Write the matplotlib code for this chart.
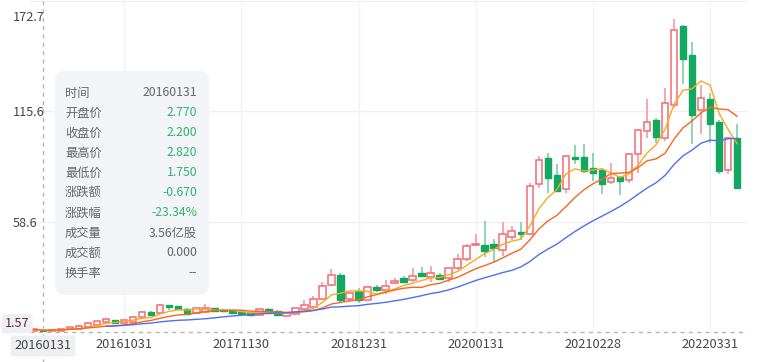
import numpy as np
import pandas as pd
import matplotlib
matplotlib.use('Agg')
import matplotlib.pyplot as plt
from matplotlib.patches import FancyBboxPatch

plt.rcParams['font.family'] = ['Noto Sans CJK SC', 'DejaVu Sans']

# monthly bars, 2015-12 .. 2022-06
dates = pd.date_range('2015-12-31', periods=79, freq='ME').strftime('%Y%m%d').tolist()

opens = [2.10, 2.77, 2.20, 2.30, 3.10, 3.20, 4.10, 5.20, 6.70, 7.70,
         6.20, 6.70, 9.30, 11.80, 11.30, 15.40, 14.90, 13.40, 11.30, 11.80,
         13.90, 13.20, 12.90, 11.80, 11.30, 10.30, 13.40, 12.40, 9.80, 10.80,
         13.40, 14.40, 18.50, 25.70, 30.90, 18.50, 22.60, 18.00, 24.70, 23.20,
         26.80, 29.30, 28.30, 31.90, 29.80, 30.90, 29.30, 34.50, 39.10, 46.30,
         46.30, 47.30, 44.20, 50.90, 53.50, 52.40, 78.10, 91.50, 82.80, 75.60,
         92.00, 92.00, 86.40, 85.30, 79.20, 81.70, 80.20, 93.60, 105.40, 111.00,
         101.80, 118.70, 159.90, 144.90, 116.20, 121.80, 110.00, 85.30, 101.80]
closes = [2.87, 2.20, 2.50, 3.10, 4.10, 4.70, 6.20, 7.20, 8.20, 6.20,
          7.70, 9.30, 11.80, 10.30, 15.40, 14.40, 13.40, 10.80, 13.90, 13.90,
          12.40, 12.40, 11.30, 10.80, 10.30, 13.40, 11.30, 10.30, 11.30, 13.90,
          15.40, 18.50, 25.20, 30.90, 18.00, 21.60, 18.00, 24.70, 23.20, 25.20,
          27.80, 27.30, 30.30, 30.30, 31.90, 28.80, 34.50, 39.10, 45.80, 47.30,
          43.70, 45.20, 52.40, 54.00, 52.40, 77.10, 90.50, 81.20, 74.50, 92.50,
          91.00, 84.80, 83.80, 78.10, 81.20, 79.70, 93.60, 105.90, 110.00, 102.30,
          119.80, 157.80, 142.90, 113.60, 122.80, 109.00, 84.80, 101.80, 76.10]
highs = [3.10, 2.82, 2.70, 3.30, 4.40, 5.00, 6.50, 7.50, 8.80, 8.00,
         8.00, 9.60, 12.20, 12.30, 15.90, 15.60, 15.20, 13.80, 14.20, 16.00,
         14.10, 13.50, 13.20, 12.10, 11.70, 13.70, 14.00, 12.70, 11.70, 14.20,
         18.00, 20.10, 27.30, 34.00, 31.90, 22.10, 24.20, 25.20, 25.70, 28.30,
         29.30, 30.30, 34.50, 35.00, 35.50, 31.90, 34.80, 41.70, 47.30, 52.40,
         59.10, 49.90, 58.60, 56.60, 58.60, 78.70, 92.50, 94.10, 88.40, 93.00,
         98.20, 98.70, 94.10, 86.00, 88.90, 82.00, 94.00, 106.40, 121.80, 112.00,
         127.50, 163.50, 160.50, 151.60, 129.50, 125.00, 111.00, 102.50, 109.00]
lows = [1.90, 1.75, 2.00, 2.10, 2.90, 3.00, 3.90, 5.00, 6.40, 5.90,
        6.00, 6.50, 9.00, 10.00, 11.00, 12.80, 13.00, 10.40, 11.00, 11.50,
        12.00, 11.80, 10.90, 10.30, 9.90, 10.00, 10.90, 9.90, 9.30, 10.50,
        13.00, 14.00, 18.00, 25.20, 16.50, 17.00, 16.50, 17.50, 22.10, 21.10,
        26.30, 26.80, 27.30, 29.80, 27.30, 28.30, 27.30, 33.80, 38.50, 45.80,
        40.60, 37.00, 41.10, 48.90, 48.90, 51.50, 76.10, 73.50, 74.00, 73.50,
        88.40, 83.80, 79.70, 73.00, 78.10, 72.50, 78.70, 84.00, 101.80, 99.20,
        100.50, 117.50, 130.00, 98.70, 103.80, 99.20, 83.30, 83.30, 75.60]

y_ticks = [58.6, 115.6, 172.7]
y_min, y_max = 1.57, 172.7
label_idx = [10, 23, 36, 49, 62, 75]
sel = 1  # tooltip month
volume_text = '3.56亿股'
amount_text = '0.000'
turnover_text = '--'

RED = '#F26B73'
RED_WICK = '#F59AA0'
GREEN = '#12A862'
GREEN_WICK = '#7ECDA5'

o = np.array(opens); c = np.array(closes); h = np.array(highs); l = np.array(lows)
x = np.arange(len(dates))
up = c >= o

ma5 = pd.Series(c).rolling(5, min_periods=1).mean()
ma10 = pd.Series(c).rolling(10, min_periods=1).mean()
ma20 = pd.Series(c).rolling(20, min_periods=9).mean()

fig = plt.figure(figsize=(7.66, 3.62), dpi=100)
ax = fig.add_axes([29.5 / 766, 1 - 332 / 362, 717.5 / 766, 331 / 362])
ax.set_xlim(-0.5, 79.1)
ax.set_ylim(y_min, y_max)
for s in ax.spines.values():
    s.set_visible(False)

for v in y_ticks:
    ax.axhline(v, color='#f0f0f0', lw=1, zorder=0, clip_on=False)
for i in label_idx:
    ax.axvline(i, color='#f2f2f2', lw=1, zorder=0)
ax.axhline(y_min, color='#b5b5b5', lw=1, ls=(0, (3, 3)), zorder=1, clip_on=False)

# candles
ax.vlines(x[up], l[up], h[up], color=RED_WICK, lw=1.2, zorder=2)
ax.vlines(x[~up], l[~up], h[~up], color=GREEN_WICK, lw=1.2, zorder=2)
body = np.maximum(np.abs(c - o), 0.4)
ax.bar(x[up], body[up], bottom=np.minimum(o, c)[up], width=0.72,
       facecolor='white', edgecolor=RED, linewidth=1.1, zorder=3)
ax.bar(x[~up], body[~up], bottom=np.minimum(o, c)[~up], width=0.72,
       facecolor=GREEN, edgecolor=GREEN, linewidth=1.0, zorder=3)

ax.plot(x, ma5, color='#F8AA1E', lw=1.0, zorder=4)
ax.plot(x, ma10, color='#F8661E', lw=1.0, zorder=4)
ax.plot(x, ma20, color='#4F6FF2', lw=1.0, zorder=4)

ax.set_xticks(label_idx)
ax.set_xticklabels([dates[i] for i in label_idx])
ax.set_yticks([])
ax.tick_params(axis='x', length=0, pad=4, labelsize=9.2, labelcolor='#464646')

# y labels drawn inside on the left
ytr = ax.get_yaxis_transform()
for v in y_ticks:
    off = -12 if v == y_max else -1
    ax.annotate(f'{v:g}', xy=(-0.023, v), xycoords=ytr, xytext=(0, off),
                textcoords='offset points', ha='left', va='center',
                fontsize=9.2, color='#464646', annotation_clip=False)

# crosshair on selected month
ax.axvline(sel, ymin=-0.1, ymax=1, color='#b5b5b5', lw=1, ls=(0, (3, 3)),
           zorder=5, clip_on=False)
ax.annotate(dates[sel], xy=(sel, 0), xycoords=ax.get_xaxis_transform(),
            xytext=(0, -10), textcoords='offset points', ha='center', va='center',
            fontsize=9.2, color='#464646', annotation_clip=False, zorder=6,
            bbox=dict(boxstyle='round,pad=0.3,rounding_size=0.2', fc='#eeeff2', ec='none'))
ax.annotate(f'{y_min:g}', xy=(0, y_min), xycoords=ytr, xytext=(-9, 6),
            textcoords='offset points', ha='center', va='center',
            fontsize=9.2, color='#5a2c3c', annotation_clip=False, zorder=6,
            bbox=dict(boxstyle='round,pad=0.25,rounding_size=0.2', fc='#eeeff2', ec='none'))

# tooltip
ov = fig.add_axes([0, 0, 1, 1])
ov.set_xlim(0, 766)
ov.set_ylim(362, 0)
ov.axis('off')
ov.add_patch(FancyBboxPatch((55, 71), 154, 224, boxstyle='round,pad=0,rounding_size=10',
                            fc='#f3f4f8', ec='none'))
prev = closes[sel - 1]
chg = closes[sel] - prev
val_color = '#2DB46E' if chg < 0 else '#F04050'
rows = [
    ('时间', dates[sel], '#666666'),
    ('开盘价', f'{opens[sel]:.3f}', val_color),
    ('收盘价', f'{closes[sel]:.3f}', val_color),
    ('最高价', f'{highs[sel]:.3f}', val_color),
    ('最低价', f'{lows[sel]:.3f}', val_color),
    ('涨跌额', f'{chg:.3f}', val_color),
    ('涨跌幅', f'{chg / prev * 100:.2f}%', val_color),
    ('成交量', volume_text, '#666666'),
    ('成交额', amount_text, '#666666'),
    ('换手率', turnover_text, '#666666'),
]
for k, (name, val, col) in enumerate(rows):
    yy = 93 + 20 * k
    ov.text(65, yy, name, ha='left', va='center', fontsize=8.8, color='#666666')
    ov.text(197, yy, val, ha='right', va='center', fontsize=8.8, color=col)

fig.savefig('out.png', dpi=100)
